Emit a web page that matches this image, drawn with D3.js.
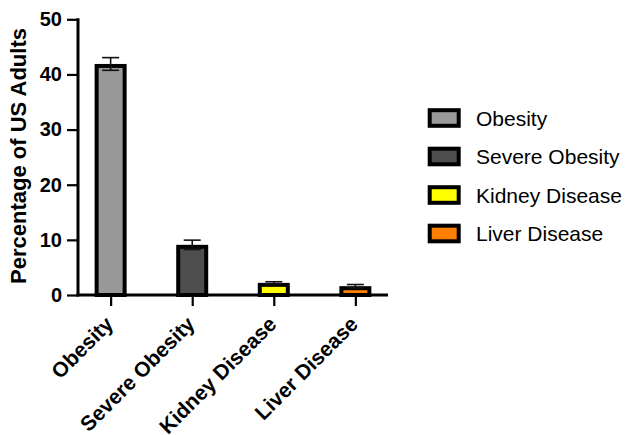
<!DOCTYPE html>
<html>
<head>
<meta charset="utf-8">
<script src="https://cdn.jsdelivr.net/npm/d3@7"></script>
<style>
  html, body { margin: 0; padding: 0; background: #fff; }
  svg { display: block; font-family: "Liberation Sans", Arial, sans-serif; }
</style>
</head>
<body>
<svg id="chart" width="630" height="435"></svg>
<script>
const categories = ["Obesity", "Severe Obesity", "Kidney Disease", "Liver Disease"];
const values = [41.9, 9.1, 2.2, 1.6];
const errors = [1.15, 0.85, 0.2, 0.3];
const colors = ["#999999", "#4d4d4d", "#ffff00", "#ff8000"];
const yTicks = [0, 10, 20, 30, 40, 50];

const svg = d3.select("#chart");
const x0 = 78, x1 = 388, yTop = 19.3, yBot = 295;

const x = d3.scalePoint().domain(categories).range([x0, x1]).padding(0.4);
const y = d3.scaleLinear().domain([0, 50]).range([yBot, yTop]);
const color = d3.scaleOrdinal().domain(categories).range(colors);

const data = categories.map((c, i) => ({ c, v: values[i], e: errors[i] }));

// bars (border drawn inside the value)
const bw = 32, sw = 4;
svg.append("g").selectAll("rect").data(data).join("rect")
  .attr("x", d => x(d.c) - bw / 2 + sw / 2)
  .attr("y", d => y(d.v) + sw / 2)
  .attr("width", bw - sw)
  .attr("height", d => yBot - y(d.v) - sw / 2)
  .attr("fill", d => color(d.c))
  .attr("stroke", "#000")
  .attr("stroke-width", sw);

// error bars
const eg = svg.append("g").attr("stroke", "#111").attr("stroke-width", 1.6);
const cap = 8.5;
data.forEach(d => {
  eg.append("line").attr("x1", x(d.c)).attr("x2", x(d.c))
    .attr("y1", y(d.v + d.e)).attr("y2", y(d.v - d.e));
  eg.append("line").attr("x1", x(d.c) - cap).attr("x2", x(d.c) + cap)
    .attr("y1", y(d.v + d.e)).attr("y2", y(d.v + d.e));
  eg.append("line").attr("x1", x(d.c) - cap).attr("x2", x(d.c) + cap)
    .attr("y1", y(d.v - d.e)).attr("y2", y(d.v - d.e));
});

// y axis
const yAxis = d3.axisLeft(y).tickValues(yTicks).tickSize(11).tickPadding(5).tickFormat(d3.format("d"));
const gy = svg.append("g").attr("transform", `translate(${x0},0)`).call(yAxis);
gy.select(".domain").attr("d", `M0,${yTop - 1}V${yBot + 1.5}`).attr("stroke", "#000").attr("stroke-width", 3);
gy.selectAll(".tick line").attr("stroke", "#000").attr("stroke-width", 2.2);
gy.selectAll(".tick text").attr("font-size", 20).attr("font-weight", "bold")
  .attr("fill", "#000").attr("font-family", "Liberation Sans, Arial, sans-serif");

// x axis
const xAxis = d3.axisBottom(x).tickSize(11).tickPadding(6);
const gx = svg.append("g").attr("transform", `translate(0,${yBot})`).call(xAxis);
gx.select(".domain").attr("d", `M${x0 - 1.5},0H${x1}`).attr("stroke", "#000").attr("stroke-width", 3);
gx.selectAll(".tick line").attr("stroke", "#000").attr("stroke-width", 2.2);
gx.selectAll(".tick text")
  .attr("font-size", 21).attr("font-weight", "bold").attr("fill", "#000")
  .attr("font-family", "Liberation Sans, Arial, sans-serif")
  .attr("text-anchor", "end")
  .attr("dy", "0.5em")
  .attr("transform", "translate(-4,23) rotate(-45)")
  .attr("y", 0).attr("x", 0);

// y title
svg.append("text")
  .attr("transform", `translate(26,156) rotate(-90)`)
  .attr("text-anchor", "middle")
  .attr("font-size", 22).attr("font-weight", "bold")
  .text("Percentage of US Adults");

// legend
const lg = svg.append("g");
const legY = [118, 156.5, 195, 233.5];
categories.forEach((c, i) => {
  lg.append("rect")
    .attr("x", 429.7).attr("y", legY[i] - 7.8)
    .attr("width", 29).attr("height", 15.6)
    .attr("fill", color(c)).attr("stroke", "#000").attr("stroke-width", 4);
  lg.append("text")
    .attr("x", 476).attr("y", legY[i]).attr("dy", "0.36em")
    .attr("font-size", 21)
    .text(c);
});
</script>
</body>
</html>
